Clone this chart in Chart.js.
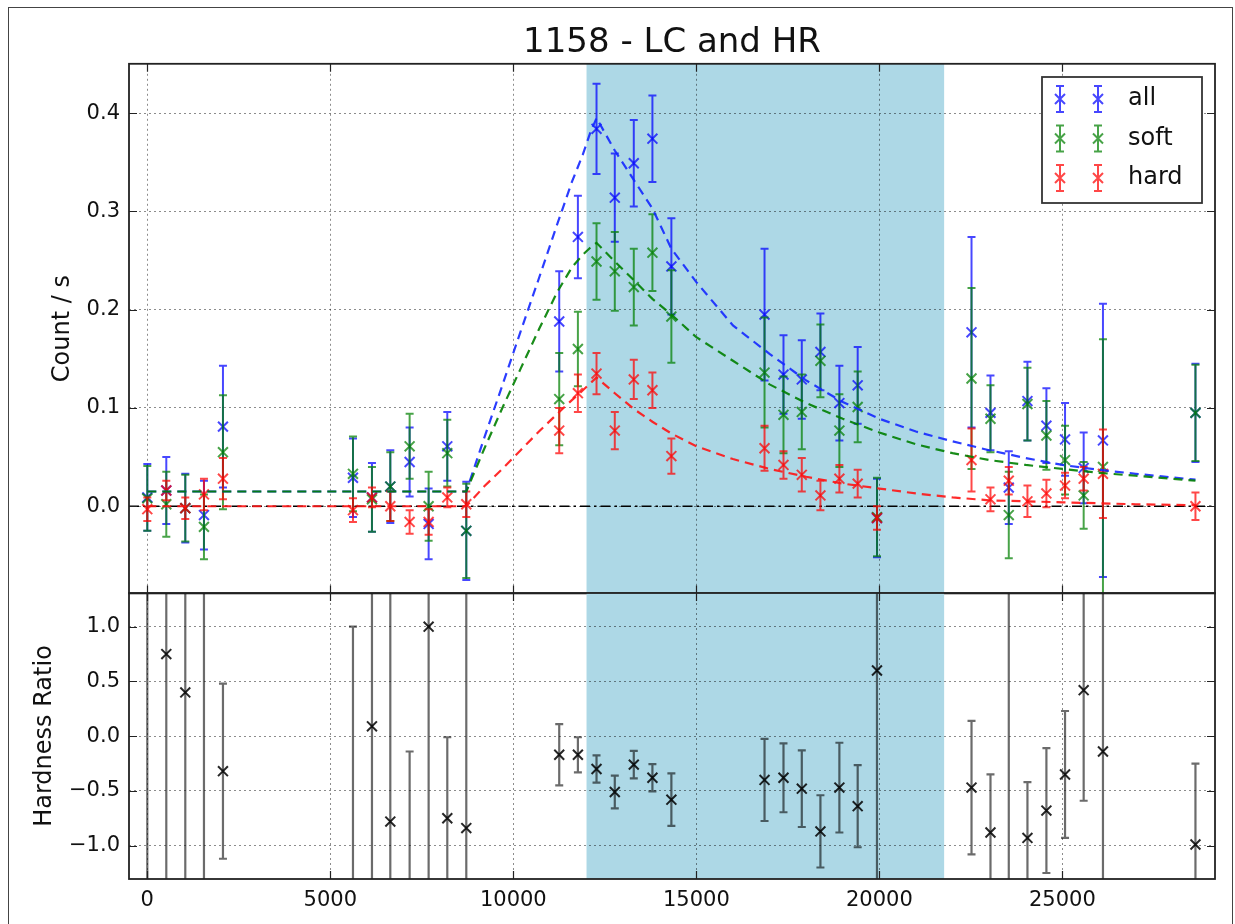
<!DOCTYPE html>
<html>
<head>
<meta charset="utf-8">
<title>1158 - LC and HR</title>
<script src="https://cdn.jsdelivr.net/npm/chart.js@4.4.1/dist/chart.umd.min.js"></script>
<style>
  body { margin: 0; background: #fff; }
  #page { position: relative; width: 1235px; height: 924px; overflow: hidden; background: #fff; }
  #frame { position: absolute; left: 8px; top: 7px; width: 1225px; height: 940px; border: 1px solid #444; box-sizing: border-box; }
  canvas { position: absolute; left: 0; }
  #lcChart { top: 0; }
  #hrChart { top: 560px; }
</style>
</head>
<body>
<div id="page">
  <div id="frame"></div>
  <canvas id="lcChart" width="1235" height="615"></canvas>
  <canvas id="hrChart" width="1235" height="364"></canvas>
</div>
<script>
// Light curve of source 1158 in three bands, with the hardness ratio below

// bin centres (s)
const TIME = [0, 519, 1038, 1548, 2067, 5619, 6138, 6639, 7167, 7686, 8196, 8715,
  11254, 11764, 12273, 12772, 13291, 13800, 14318, 16863, 17381, 17881, 18390, 18908,
  19408, 19935, 22518, 23036, 23536, 24046, 24564, 25073, 25582, 26109, 28636];

// count rates (count / s) and 1-sigma errors
const RATE_ALL = [0.009, 0.016, -0.002, -0.009, 0.081, 0.029, 0.009, 0.020, 0.045, -0.018, 0.061, -0.025,
  0.188, 0.274, 0.384, 0.314, 0.349, 0.374, 0.244, 0.195, 0.134, 0.129, 0.157, 0.105,
  0.123, -0.012, 0.177, 0.095, 0.019, 0.107, 0.082, 0.068, 0.039, 0.067, 0.095];
const ERR_ALL = [0.034, 0.034, 0.035, 0.035, 0.062, 0.040, 0.035, 0.037, 0.035, 0.036, 0.035, 0.050,
  0.051, 0.042, 0.046, 0.045, 0.044, 0.044, 0.049, 0.067, 0.040, 0.040, 0.039, 0.038,
  0.039, 0.040, 0.097, 0.038, 0.037, 0.040, 0.038, 0.037, 0.036, 0.139, 0.050];

const RATE_SOFT = [0.008, 0.002, -0.002, -0.021, 0.055, 0.033, 0.007, 0.020, 0.061, 0.000, 0.054, -0.025,
  0.109, 0.160, 0.249, 0.239, 0.223, 0.258, 0.193, 0.136, 0.093, 0.096, 0.148, 0.077,
  0.101, -0.011, 0.130, 0.089, -0.009, 0.104, 0.072, 0.047, 0.011, 0.040, 0.095];
const ERR_SOFT = [0.033, 0.033, 0.034, 0.033, 0.058, 0.038, 0.033, 0.035, 0.033, 0.035, 0.034, 0.048,
  0.047, 0.038, 0.039, 0.040, 0.039, 0.039, 0.047, 0.056, 0.039, 0.038, 0.037, 0.037,
  0.036, 0.040, 0.092, 0.034, 0.044, 0.037, 0.035, 0.035, 0.034, 0.130, 0.049];

const RATE_HARD = [-0.003, 0.016, -0.002, 0.012, 0.028, -0.004, 0.009, 0.000, -0.016, -0.016, 0.009, 0.002,
  0.077, 0.115, 0.135, 0.077, 0.129, 0.118, 0.051, 0.059, 0.042, 0.032, 0.011, 0.028,
  0.023, -0.012, 0.047, 0.007, 0.026, 0.005, 0.013, 0.021, 0.028, 0.033, 0.000];
const ERR_HARD = [0.012, 0.010, 0.011, 0.016, 0.021, 0.012, 0.010, 0.015, 0.012, 0.013, 0.010, 0.013,
  0.023, 0.019, 0.021, 0.019, 0.020, 0.018, 0.018, 0.023, 0.014, 0.017, 0.015, 0.014,
  0.014, 0.012, 0.032, 0.012, 0.014, 0.016, 0.014, 0.013, 0.012, 0.045, 0.014];

// hardness ratio per bin; several bins sit off the axis with very large errors
const HR = [-2.2, 0.75, 0.40, -3.7, -0.32, -1.6, 0.09, -0.78, -1.7, 1.00, -0.75, -0.84,
  -0.17, -0.17, -0.30, -0.51, -0.26, -0.38, -0.58, -0.40, -0.38, -0.48, -0.87, -0.47,
  -0.64, 0.60, -0.47, -0.88, 2.1, -0.93, -0.68, -0.35, 0.42, -0.14, -0.99];
const HR_ERR = [4.0, 2.5, 2.5, 5.5, 0.80, 2.6, 2.0, 2.3, 1.56, 2.6, 0.74, 2.5,
  0.28, 0.16, 0.125, 0.15, 0.125, 0.125, 0.24, 0.375, 0.315, 0.35, 0.33, 0.41,
  0.375, 3.0, 0.61, 0.53, 4.0, 0.51, 0.57, 0.58, 1.01, 2.5, 0.74];

// flare model curves (flat, rise, decay)
const MODEL_TIME = [0, 8715, 9200, 9700, 10200, 10700, 11200, 11600, 11900, 12100, 12273,
  12772, 13291, 13800, 14318, 15000, 16000, 17000, 18000, 19000, 20000,
  21000, 22000, 23000, 24000, 25000, 26000, 27000, 28636];
const MODEL_ALL = [0.015, 0.015, 0.069, 0.123, 0.178, 0.232, 0.287, 0.330, 0.358, 0.380, 0.395,
  0.362, 0.332, 0.303, 0.262, 0.228, 0.184, 0.155, 0.128, 0.106, 0.089,
  0.076, 0.066, 0.057, 0.049, 0.042, 0.037, 0.033, 0.027];
const MODEL_SOFT = [0.015, 0.015, 0.058, 0.100, 0.140, 0.180, 0.218, 0.243, 0.256, 0.263, 0.268,
  0.249, 0.230, 0.211, 0.195, 0.172, 0.148, 0.124, 0.105, 0.089, 0.075,
  0.063, 0.054, 0.047, 0.042, 0.038, 0.034, 0.031, 0.026];
const MODEL_HARD = [0.000, 0.000, 0.020, 0.038, 0.057, 0.076, 0.094, 0.108, 0.118, 0.125, 0.131,
  0.115, 0.099, 0.086, 0.074, 0.061, 0.048, 0.038, 0.030, 0.023, 0.018,
  0.013, 0.009, 0.006, 0.005, 0.004, 0.003, 0.002, 0.001];

const FLARE_WINDOW = [12000, 21770];

const X_TICKS = [0, 5000, 10000, 15000, 20000, 25000];
const LC_TICKS = [0, 0.1, 0.2, 0.3, 0.4];
const HR_TICKS = [-1, -0.5, 0, 0.5, 1];
const X_RANGE = [-500, 29170];
const LC_RANGE = [-0.0887, 0.4502];
const HR_RANGE = [-1.305, 1.308];

const FONT = '"DejaVu Sans", sans-serif';
const CAP = 4;
const TICK_LEN = 8;

Chart.defaults.font.family = FONT;
Chart.defaults.color = '#111';

const pts = (xs, ys) => xs.map((x, i) => ({ x: x, y: ys[i] }));
const fixedTicks = list => scale => { scale.ticks = list.map(v => ({ value: v })); };
const signed = v => (v < 0 ? '\u2212' : '') + Math.abs(v).toFixed(1);

// shading, error bars, zero line, frame with inward ticks, legend
const panelPlugin = {
  id: 'panel',
  beforeDraw(chart) {
    const { ctx, chartArea: a, scales: { x } } = chart;
    const x0 = Math.max(a.left, x.getPixelForValue(FLARE_WINDOW[0]));
    const x1 = Math.min(a.right, x.getPixelForValue(FLARE_WINDOW[1]));
    ctx.save();
    ctx.fillStyle = '#add8e6';
    ctx.fillRect(x0, a.top, x1 - x0, a.bottom - a.top);
    ctx.restore();
  },
  beforeDatasetsDraw(chart, args, opts) {
    if (!opts.zeroLine) return;
    const { ctx, chartArea: a, scales: { y } } = chart;
    const py = y.getPixelForValue(0);
    ctx.save();
    ctx.strokeStyle = '#000';
    ctx.lineWidth = 1.7;
    ctx.setLineDash([10, 4, 2.5, 4]);
    ctx.beginPath();
    ctx.moveTo(a.left, py);
    ctx.lineTo(a.right, py);
    ctx.stroke();
    ctx.restore();
  },
  beforeDatasetDraw(chart, args) {
    const ds = chart.data.datasets[args.index];
    if (!ds.errors) return;
    const { ctx, chartArea: a, scales: { x, y } } = chart;
    ctx.save();
    ctx.beginPath();
    ctx.rect(a.left, a.top, a.right - a.left, a.bottom - a.top);
    ctx.clip();
    ctx.strokeStyle = ds.barColor;
    ctx.lineWidth = ds.barWidth;
    ds.data.forEach((p, i) => {
      const e = ds.errors[i];
      const px = x.getPixelForValue(p.x);
      const top = y.getPixelForValue(p.y + e);
      const bot = y.getPixelForValue(p.y - e);
      ctx.beginPath();
      ctx.moveTo(px, top); ctx.lineTo(px, bot);
      ctx.moveTo(px - CAP, top); ctx.lineTo(px + CAP, top);
      ctx.moveTo(px - CAP, bot); ctx.lineTo(px + CAP, bot);
      ctx.stroke();
    });
    ctx.restore();
  },
  afterDraw(chart, args, opts) {
    const { ctx, chartArea: a, scales: { x, y } } = chart;
    ctx.save();
    ctx.strokeStyle = '#222';
    ctx.lineWidth = 1.2;
    ctx.beginPath();
    x.ticks.forEach(t => {
      const px = Math.round(x.getPixelForValue(t.value)) + 0.5;
      ctx.moveTo(px, a.top); ctx.lineTo(px, a.top + TICK_LEN);
      ctx.moveTo(px, a.bottom); ctx.lineTo(px, a.bottom - TICK_LEN);
    });
    y.ticks.forEach(t => {
      const py = Math.round(y.getPixelForValue(t.value)) + 0.5;
      ctx.moveTo(a.left, py); ctx.lineTo(a.left + TICK_LEN, py);
      ctx.moveTo(a.right, py); ctx.lineTo(a.right - TICK_LEN, py);
    });
    ctx.stroke();
    ctx.lineWidth = 1.8;
    ctx.strokeRect(a.left, a.top, a.right - a.left, a.bottom - a.top);
    ctx.restore();
    if (opts.legend) drawLegend(chart);
  }
};

function drawLegend(chart) {
  const { ctx } = chart;
  const entries = chart.data.datasets.filter(d => d.errors);
  const box = { left: 1042, top: 77, width: 160, height: 126 };
  ctx.save();
  ctx.fillStyle = '#fff';
  ctx.fillRect(box.left, box.top, box.width, box.height);
  ctx.strokeStyle = '#333';
  ctx.lineWidth = 1.8;
  ctx.strokeRect(box.left, box.top, box.width, box.height);
  entries.forEach((d, i) => {
    const cy = box.top + 22 + i * 39.5;
    [1060, 1098].forEach(cx => {
      ctx.strokeStyle = d.barColor;
      ctx.lineWidth = 2;
      ctx.beginPath();
      ctx.moveTo(cx, cy - 13); ctx.lineTo(cx, cy + 13);
      ctx.moveTo(cx - CAP, cy - 13); ctx.lineTo(cx + CAP, cy - 13);
      ctx.moveTo(cx - CAP, cy + 13); ctx.lineTo(cx + CAP, cy + 13);
      ctx.moveTo(cx - 5, cy - 5); ctx.lineTo(cx + 5, cy + 5);
      ctx.moveTo(cx - 5, cy + 5); ctx.lineTo(cx + 5, cy - 5);
      ctx.stroke();
    });
    ctx.fillStyle = '#111';
    ctx.font = '24px ' + FONT;
    ctx.textBaseline = 'middle';
    ctx.fillText(d.label, 1128, cy);
  });
  ctx.restore();
}

function bandSet(label, ys, errs, color, order) {
  return {
    label: label,
    data: pts(TIME, ys),
    errors: errs,
    barColor: color,
    barWidth: 2,
    pointStyle: 'crossRot',
    pointRadius: 7,
    pointBorderWidth: 2,
    pointBorderColor: color,
    pointBackgroundColor: color,
    order: order
  };
}

function modelSet(ys, color, order) {
  return {
    label: 'model',
    data: pts(MODEL_TIME, ys),
    showLine: true,
    borderColor: color,
    borderWidth: 2.2,
    borderDash: [9, 6],
    pointRadius: 0,
    fill: false,
    order: order
  };
}

function xAxis(showLabels, height) {
  return {
    type: 'linear',
    min: X_RANGE[0],
    max: X_RANGE[1],
    afterBuildTicks: fixedTicks(X_TICKS),
    afterFit: s => { s.height = height; },
    grid: { color: 'rgba(0,0,0,0.45)', drawTicks: false, lineWidth: 1 },
    border: { display: false, dash: [2, 3] },
    ticks: { display: showLabels, padding: 9, font: { size: 21 }, callback: v => String(v) }
  };
}

function yAxis(range, ticks, title, titlePad, fmt) {
  return {
    type: 'linear',
    min: range[0],
    max: range[1],
    afterBuildTicks: fixedTicks(ticks),
    afterFit: s => { s.width = 129; },
    grid: { color: 'rgba(0,0,0,0.45)', drawTicks: false, lineWidth: 1 },
    border: { display: false, dash: [2, 3] },
    ticks: { padding: 9, font: { size: 21 }, callback: fmt },
    title: { display: true, text: title, font: { size: 24 }, padding: { top: titlePad, bottom: 0 } }
  };
}

new Chart(document.getElementById('lcChart'), {
  type: 'scatter',
  data: {
    datasets: [
      bandSet('all', RATE_ALL, ERR_ALL, 'rgba(0,0,255,0.72)', 6),
      bandSet('soft', RATE_SOFT, ERR_SOFT, 'rgba(0,128,0,0.72)', 5),
      bandSet('hard', RATE_HARD, ERR_HARD, 'rgba(255,0,0,0.72)', 4),
      modelSet(MODEL_ALL, 'rgba(20,40,255,0.9)', 3),
      modelSet(MODEL_SOFT, 'rgba(0,128,0,0.9)', 2),
      modelSet(MODEL_HARD, 'rgba(255,20,20,0.9)', 1)
    ]
  },
  options: {
    responsive: false,
    animation: false,
    events: [],
    layout: { padding: { left: 0, top: 0, right: 20, bottom: 0 } },
    scales: {
      x: xAxis(false, 0),
      y: yAxis(LC_RANGE, LC_TICKS, 'Count / s', 48, v => v.toFixed(1))
    },
    plugins: {
      legend: { display: false },
      tooltip: { enabled: false },
      title: {
        display: true,
        text: '1158 - LC and HR',
        fullSize: false,
        color: '#111',
        font: { size: 34, weight: 'normal' },
        padding: { top: 23, bottom: 0 }
      },
      panel: { zeroLine: true, legend: true }
    }
  },
  plugins: [panelPlugin]
});

new Chart(document.getElementById('hrChart'), {
  type: 'scatter',
  data: {
    datasets: [{
      label: 'HR',
      data: pts(TIME, HR),
      errors: HR_ERR,
      barColor: 'rgba(0,0,0,0.58)',
      barWidth: 2.2,
      pointStyle: 'crossRot',
      pointRadius: 7,
      pointBorderWidth: 2,
      pointBorderColor: 'rgba(0,0,0,0.85)',
      pointBackgroundColor: 'rgba(0,0,0,0.85)'
    }]
  },
  options: {
    responsive: false,
    animation: false,
    events: [],
    layout: { padding: { left: 0, top: 33, right: 20, bottom: 0 } },
    scales: {
      x: xAxis(true, 45),
      y: yAxis(HR_RANGE, HR_TICKS, 'Hardness Ratio', 30, signed)
    },
    plugins: {
      legend: { display: false },
      tooltip: { enabled: false },
      panel: { zeroLine: false, legend: false }
    }
  },
  plugins: [panelPlugin]
});
</script>
</body>
</html>
